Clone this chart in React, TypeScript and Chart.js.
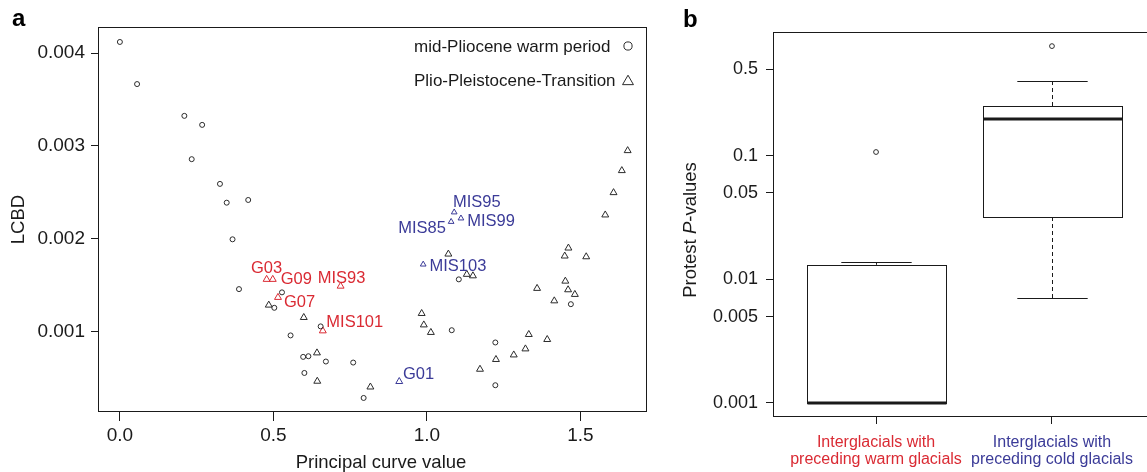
import React, { useEffect, useRef } from 'react';
import { Chart, registerables } from 'chart.js';

Chart.register(...registerables);

const FONT = '"Liberation Sans", Arial, Helvetica, sans-serif';
const INK = '#1a1a1a';
const MARK = '#2b2b2b';
const RED = '#DA2A33';
const BLUE = '#3B3B98';

// ---------- Panel a data ----------
const A_X_TICKS = [0, 0.5, 1.0, 1.5];
const A_Y_TICKS = [0.001, 0.002, 0.003, 0.004];

// mid-Pliocene warm period (circles)
const PLIOCENE_X = [0.000, 0.056, 0.210, 0.268, 0.234, 0.326, 0.348, 0.418, 0.367, 0.388, 0.528, 0.503, 0.556, 0.654, 0.597, 0.614, 0.671, 0.601, 0.760, 0.794, 1.104, 1.081, 1.223, 1.223, 1.469];
const PLIOCENE_Y = [0.004119, 0.003666, 0.003324, 0.003227, 0.002858, 0.002592, 0.002390, 0.002419, 0.001996, 0.001460, 0.001425, 0.001259, 0.000962, 0.001059, 0.000731, 0.000738, 0.000681, 0.000558, 0.000670, 0.000289, 0.001565, 0.001018, 0.000886, 0.000426, 0.001298];

// Plio-Pleistocene-Transition (triangles)
const PPT_X = [0.485, 0.599, 0.642, 0.643, 0.983, 0.990, 1.013, 0.816, 1.070, 1.130, 1.150, 1.173, 1.225, 1.283, 1.321, 1.332, 1.392, 1.359, 1.415, 1.451, 1.460, 1.482, 1.449, 1.461, 1.519, 1.654, 1.635, 1.608, 1.581];
const PPT_Y = [0.001288, 0.001155, 0.000774, 0.000469, 0.001198, 0.001075, 0.000994, 0.000407, 0.001837, 0.001619, 0.001603, 0.000598, 0.000703, 0.000752, 0.000817, 0.000972, 0.000918, 0.001468, 0.001334, 0.001546, 0.001453, 0.001403, 0.001816, 0.001902, 0.001808, 0.002950, 0.002735, 0.002498, 0.002258];

// labelled glacials (warm = red, cold = blue)
const WARM_LABELS = ['G03', 'G09', 'G07', 'MIS93', 'MIS101'];
const WARM_X = [0.478, 0.498, 0.515, 0.719, 0.661];
const WARM_Y = [0.001565, 0.001565, 0.001371, 0.001492, 0.001011];

const COLD_LABELS = ['G01', 'MIS95', 'MIS85', 'MIS99', 'MIS103'];
const COLD_X = [0.910, 1.089, 1.079, 1.111, 0.988];
const COLD_Y = [0.000466, 0.002287, 0.002185, 0.002222, 0.001726];

const LEGEND_LABELS = ['mid-Pliocene warm period', 'Plio-Pleistocene-Transition'];

// label placement (style): [dx, dy, align]
const WARM_LABEL_POS: [number, number, CanvasTextAlign][] = [
  [0, -12.5, 'center'], [8, -1, 'left'], [6, 3.5, 'left'], [1, -9.5, 'center'], [3.5, -9.7, 'left'],
];
const COLD_LABEL_POS: [number, number, CanvasTextAlign][] = [
  [3.7, -8.6, 'left'], [-1.3, -11.6, 'left'], [-5.3, 5, 'right'], [6.3, 1.7, 'left'], [6.3, 0.7, 'left'],
];
const COLD_POINT_RADIUS = [4.0, 3.3, 3.3, 3.3, 3.3];

// ---------- Panel b data ----------
const B_Y_TICKS = [0.001, 0.005, 0.01, 0.05, 0.1, 0.5];
const GROUP_LABELS = [
  ['Interglacials with', 'preceding warm glacials'],
  ['Interglacials with', 'preceding cold glacials'],
];
const GROUP_COLORS = [RED, BLUE];
const BOX_MIN = [0.001, 0.00706];
const BOX_Q1 = [0.001, 0.0319];
const BOX_MEDIAN = [0.001, 0.198];
const BOX_Q3 = [0.0131, 0.252];
const BOX_MAX = [0.0138, 0.401];
const OUTLIER_GROUP = [1, 2];
const OUTLIER_VALUE = [0.107, 0.769];

const BOX_HALF_WIDTH = 0.395;
const STAPLE_HALF_WIDTH = 0.2;

function drawTriangle(ctx: CanvasRenderingContext2D, x: number, y: number, r: number) {
  ctx.beginPath();
  for (let k = 0; k < 3; k++) {
    const ang = (k * 2 * Math.PI) / 3;
    const px = x + Math.sin(ang) * r;
    const py = y - Math.cos(ang) * r;
    if (k === 0) ctx.moveTo(px, py);
    else ctx.lineTo(px, py);
  }
  ctx.closePath();
  ctx.stroke();
}

function drawPointLabels(chart: any, dsIndex: number, labels: string[], pos: [number, number, CanvasTextAlign][], color: string) {
  const ctx = chart.ctx as CanvasRenderingContext2D;
  const meta = chart.getDatasetMeta(dsIndex);
  const size = 16.5;
  ctx.font = `${size}px ${FONT}`;
  ctx.fillStyle = color;
  ctx.textBaseline = 'alphabetic';
  meta.data.forEach((el: any, i: number) => {
    const [dx, dy, align] = pos[i];
    ctx.textAlign = align;
    ctx.fillText(labels[i], el.x + dx, el.y + dy + 0.36 * size);
  });
}

const panelAPlugin = {
  id: 'panelA',
  afterDraw(chart: any) {
    const ctx = chart.ctx as CanvasRenderingContext2D;
    const a = chart.chartArea;
    ctx.save();
    ctx.strokeStyle = INK;
    ctx.lineWidth = 1;
    ctx.strokeRect(Math.round(a.left) - 0.5, Math.round(a.top) + 0.5, Math.round(a.right - a.left), Math.round(a.bottom - a.top) - 1);

    drawPointLabels(chart, 2, WARM_LABELS, WARM_LABEL_POS, RED);
    drawPointLabels(chart, 3, COLD_LABELS, COLD_LABEL_POS, BLUE);

    // legend
    const ls = 17;
    ctx.font = `${ls}px ${FONT}`;
    ctx.fillStyle = INK;
    ctx.textAlign = 'left';
    ctx.textBaseline = 'alphabetic';
    ctx.fillText(LEGEND_LABELS[0], 414, 45.5 + 0.36 * ls);
    ctx.fillText(LEGEND_LABELS[1], 414, 80 + 0.36 * ls);
    ctx.strokeStyle = MARK;
    ctx.beginPath();
    ctx.arc(628, 46, 4.1, 0, Math.PI * 2);
    ctx.stroke();
    drawTriangle(ctx, 628, 81.5, 6.3);

    // panel letter
    ctx.fillStyle = '#000';
    ctx.font = `bold 24px ${FONT}`;
    ctx.fillText('a', 12, 26);

    // axis titles
    const ts = 18.5;
    ctx.fillStyle = INK;
    ctx.font = `${ts}px ${FONT}`;
    ctx.textAlign = 'center';
    ctx.fillText('Principal curve value', 381, 461.5 + 0.358 * ts);
    ctx.save();
    ctx.translate(17, 219.5);
    ctx.rotate(-Math.PI / 2);
    ctx.fillText('LCBD', 0, 0.358 * ts);
    ctx.restore();
    ctx.restore();
  },
};

const boxPlugin = {
  id: 'boxes',
  beforeDatasetsDraw(chart: any) {
    const ctx = chart.ctx as CanvasRenderingContext2D;
    const x = chart.scales.x;
    const y = chart.scales.y;
    ctx.save();
    ctx.strokeStyle = INK;
    ctx.lineWidth = 1;
    const line = (x1: number, y1: number, x2: number, y2: number) => {
      ctx.beginPath();
      ctx.moveTo(x1, y1);
      ctx.lineTo(x2, y2);
      ctx.stroke();
    };
    BOX_Q1.forEach((_, i) => {
      const cx = Math.round(x.getPixelForValue(i + 1)) + 0.5;
      const hw = Math.abs(x.getPixelForValue(i + 1 + BOX_HALF_WIDTH) - x.getPixelForValue(i + 1));
      const sw = Math.abs(x.getPixelForValue(i + 1 + STAPLE_HALF_WIDTH) - x.getPixelForValue(i + 1));
      const yMin = y.getPixelForValue(BOX_MIN[i]);
      const yQ1 = y.getPixelForValue(BOX_Q1[i]);
      const yMed = y.getPixelForValue(BOX_MEDIAN[i]);
      const yQ3 = y.getPixelForValue(BOX_Q3[i]);
      const yMax = y.getPixelForValue(BOX_MAX[i]);
      ctx.lineWidth = 1;
      ctx.setLineDash([4, 3]);
      line(cx, yQ3, cx, yMax);
      line(cx, yQ1, cx, yMin);
      ctx.setLineDash([]);
      line(cx - sw, Math.round(yMax) + 0.5, cx + sw, Math.round(yMax) + 0.5);
      line(cx - sw, Math.round(yMin) + 0.5, cx + sw, Math.round(yMin) + 0.5);
      const l = Math.round(cx - hw) + 0.5;
      const r = Math.round(cx + hw) + 0.5;
      const t = Math.round(yQ3) + 0.5;
      const b = Math.round(yQ1) + 0.5;
      ctx.fillStyle = '#fff';
      ctx.fillRect(l, t, r - l, b - t);
      ctx.strokeRect(l, t, r - l, b - t);
      ctx.lineWidth = 3;
      line(l, yMed, r, yMed);
    });
    ctx.restore();
  },
  afterDraw(chart: any) {
    const ctx = chart.ctx as CanvasRenderingContext2D;
    const a = chart.chartArea;
    ctx.save();
    ctx.strokeStyle = INK;
    ctx.lineWidth = 1;
    ctx.strokeRect(Math.round(a.left) - 0.5, Math.round(a.top) + 0.5, Math.round(a.right - a.left), Math.round(a.bottom - a.top) - 1);

    ctx.fillStyle = '#000';
    ctx.font = `bold 24px ${FONT}`;
    ctx.textAlign = 'left';
    ctx.textBaseline = 'alphabetic';
    ctx.fillText('b', 23, 27);

    // y title with italic P
    const ts = 18.5;
    const normal = `${ts}px ${FONT}`;
    const italic = `italic ${ts}px ${FONT}`;
    const parts: [string, string][] = [['Protest ', normal], ['P', italic], ['-values', normal]];
    let total = 0;
    parts.forEach(([t, f]) => { ctx.font = f; total += ctx.measureText(t).width; });
    ctx.fillStyle = INK;
    ctx.translate(29.5, 230);
    ctx.rotate(-Math.PI / 2);
    let pos = -total / 2;
    parts.forEach(([t, f]) => {
      ctx.font = f;
      ctx.fillText(t, pos, 0.358 * ts);
      pos += ctx.measureText(t).width;
    });
    ctx.restore();
  },
};

function PanelA() {
  const ref = useRef<HTMLCanvasElement>(null);
  useEffect(() => {
    if (!ref.current) return;
    const pts = (xs: number[], ys: number[]) => xs.map((x, i) => ({ x, y: ys[i] }));
    const chart = new Chart(ref.current, {
      type: 'scatter',
      data: {
        datasets: [
          { label: LEGEND_LABELS[0], data: pts(PLIOCENE_X, PLIOCENE_Y), pointStyle: 'circle', pointRadius: 2.5, pointBorderColor: MARK, pointBackgroundColor: 'rgba(0,0,0,0)', pointBorderWidth: 1 },
          { label: LEGEND_LABELS[1], data: pts(PPT_X, PPT_Y), pointStyle: 'triangle', pointRadius: 4.0, pointBorderColor: MARK, pointBackgroundColor: 'rgba(0,0,0,0)', pointBorderWidth: 1 },
          { label: 'warm', data: pts(WARM_X, WARM_Y), pointStyle: 'triangle', pointRadius: 4.0, pointBorderColor: RED, pointBackgroundColor: 'rgba(0,0,0,0)', pointBorderWidth: 1 },
          { label: 'cold', data: pts(COLD_X, COLD_Y), pointStyle: 'triangle', pointRadius: COLD_POINT_RADIUS, pointBorderColor: BLUE, pointBackgroundColor: 'rgba(0,0,0,0)', pointBorderWidth: 1 },
        ] as any,
      },
      options: {
        responsive: false,
        animation: false,
        devicePixelRatio: 1,
        events: [],
        layout: { padding: { left: 0, top: 27, right: 13, bottom: 0 } },
        plugins: { legend: { display: false }, tooltip: { enabled: false } },
        scales: {
          x: {
            type: 'linear',
            min: -0.068,
            max: 1.717,
            afterBuildTicks: (s: any) => { s.ticks = A_X_TICKS.map((v) => ({ value: v })); },
            afterFit: (s: any) => { s.height = 60; },
            grid: { drawOnChartArea: false, drawTicks: true, tickLength: 9, color: INK },
            border: { display: false },
            ticks: { color: INK, font: { family: FONT, size: 19 }, padding: 3, maxRotation: 0, autoSkip: false, callback: (v: any) => Number(v).toFixed(1) },
          },
          y: {
            type: 'linear',
            min: 0.000138,
            max: 0.00428,
            afterBuildTicks: (s: any) => { s.ticks = A_Y_TICKS.map((v) => ({ value: v })); },
            afterFit: (s: any) => { s.width = 99; },
            grid: { drawOnChartArea: false, drawTicks: true, tickLength: 8, color: INK },
            border: { display: false },
            ticks: { color: INK, font: { family: FONT, size: 19 }, padding: 6, autoSkip: false, callback: (v: any) => Number(v).toFixed(3) },
          },
        },
      } as any,
      plugins: [panelAPlugin],
    });
    return () => chart.destroy();
  }, []);
  return <canvas ref={ref} width={660} height={472} style={{ display: 'block' }} />;
}

function PanelB() {
  const ref = useRef<HTMLCanvasElement>(null);
  useEffect(() => {
    if (!ref.current) return;
    const chart = new Chart(ref.current, {
      type: 'scatter',
      data: {
        datasets: [
          {
            label: 'outliers',
            data: OUTLIER_GROUP.map((g, i) => ({ x: g, y: OUTLIER_VALUE[i] })),
            pointStyle: 'circle',
            pointRadius: 2.4,
            pointBorderColor: MARK,
            pointBackgroundColor: 'rgba(0,0,0,0)',
            pointBorderWidth: 1,
          },
        ] as any,
      },
      options: {
        responsive: false,
        animation: false,
        devicePixelRatio: 1,
        events: [],
        layout: { padding: { left: 0, top: 32, right: 6, bottom: 0 } },
        plugins: { legend: { display: false }, tooltip: { enabled: false } },
        scales: {
          x: {
            type: 'linear',
            min: 0.42,
            max: 2.58,
            afterBuildTicks: (s: any) => { s.ticks = GROUP_LABELS.map((_, i) => ({ value: i + 1 })); },
            afterFit: (s: any) => { s.height = 55; },
            grid: { drawOnChartArea: false, drawTicks: true, tickLength: 7, color: INK },
            border: { display: false },
            ticks: {
              color: (c: any) => GROUP_COLORS[c.index] || INK,
              font: { family: FONT, size: 16, lineHeight: 1.06 },
              padding: 10.5,
              maxRotation: 0,
              autoSkip: false,
              callback: (v: any) => GROUP_LABELS[Math.round(Number(v)) - 1] || '',
            },
          },
          y: {
            type: 'logarithmic',
            min: 0.00077,
            max: 1.0,
            afterBuildTicks: (s: any) => { s.ticks = B_Y_TICKS.map((v) => ({ value: v })); },
            afterFit: (s: any) => { s.width = 114; },
            grid: { drawOnChartArea: false, drawTicks: true, tickLength: 8, color: INK },
            border: { display: false },
            ticks: { color: INK, font: { family: FONT, size: 18 }, padding: 8, autoSkip: false, callback: (v: any) => String(Number(v)) },
          },
        },
      } as any,
      plugins: [boxPlugin],
    });
    return () => chart.destroy();
  }, []);
  return <canvas ref={ref} width={500} height={472} style={{ display: 'block' }} />;
}

export default function App() {
  return (
    <div style={{ position: 'fixed', left: 0, top: 0, width: 1147, height: 472, background: '#fff', overflow: 'hidden' }}>
      <div style={{ position: 'absolute', left: 0, top: 0, width: 660, height: 472 }}>
        <PanelA />
      </div>
      <div style={{ position: 'absolute', left: 660, top: 0, width: 487, height: 472, overflow: 'hidden' }}>
        <PanelB />
      </div>
    </div>
  );
}
